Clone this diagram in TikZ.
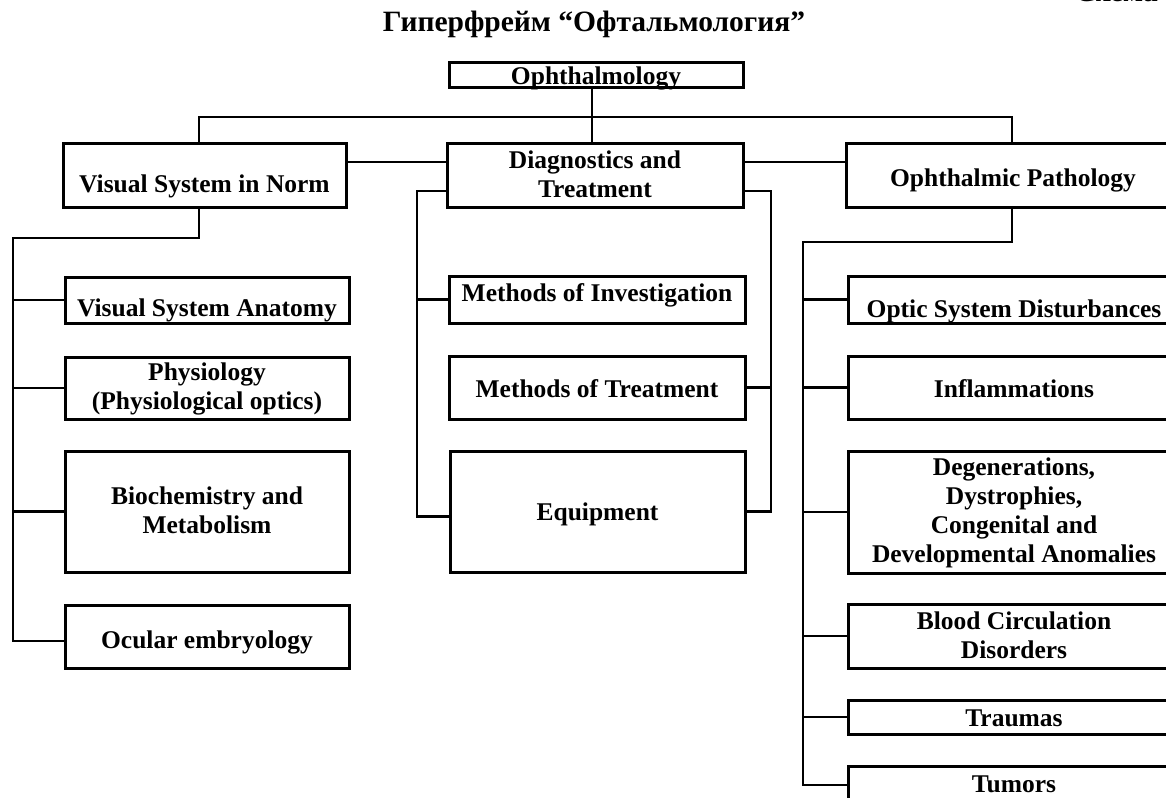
\documentclass[tikz,border=0pt]{standalone}
\usepackage{fontspec}
\setmainfont{Liberation Serif}
\usetikzlibrary{calc}
\tikzset{
  boxst/.style={draw, line width=3pt, inner sep=0pt, outer sep=0pt, rectangle},
  txt/.style={font=\fontsize{25.5}{29}\selectfont\bfseries, align=center, inner sep=0pt,
     execute at begin node={\rule{0pt}{20pt}}, execute at end node={\rule[-7pt]{0pt}{7pt}}},
  titlest/.style={font=\fontsize{29.5}{33}\selectfont\bfseries, inner sep=0pt},
  con/.style={line width=2.3pt},
}
\newcommand\bx[8]{%
  \node[boxst, minimum width={(#4-#2)*1pt}, minimum height={(#5-#3)*1pt}] (#1) at ({(#2+#4)/2},{-(#3+#5)/2}) {};
  \node[txt] (#1t) at ({(#2+#4)/2},{-((#6+#7)/2-6.5)}) {#8};
}
\begin{document}
\begin{tikzpicture}[x=1pt,y=1pt]
\path[use as bounding box, fill=white] (0,0) rectangle (1166,-797);

\node[titlest, anchor=base] (title) at (594,-32) {Гиперфрейм “Офтальмология”};
\node[titlest, anchor=base east] (schema) at (1158,-1.5) {Схема};

\bx{ophth}{449}{63}{743}{88}{85}{85}{Ophthalmology}
\bx{vsn}{63}{143}{346}{207}{192}{192}{Visual System in Norm}
\bx{diag}{447}{143}{743}{207}{170}{199}{Diagnostics and\\Treatment}
\bx{op}{846}{143}{1180}{207}{186}{186}{Ophthalmic Pathology}

\bx{vsa}{65}{277}{349}{323}{316}{316}{Visual System Anatomy}
\bx{phys}{65}{357}{349}{419}{382}{410}{Physiology\\(Physiological optics)}
\bx{bio}{65}{451}{349}{572}{505}{535}{Biochemistry and\\Metabolism}
\bx{ocu}{65}{605}{349}{668}{648}{648}{Ocular embryology}

\bx{moi}{449}{276}{745}{323}{301}{301}{Methods of Investigation}
\bx{mot}{449}{356}{745}{419}{397}{397}{Methods of Treatment}
\bx{equ}{450}{451}{745}{572}{520}{520}{Equipment}

\bx{osd}{848}{276}{1180}{323}{317}{317}{Optic System Disturbances}
\bx{inf}{848}{356}{1180}{419}{397}{397}{Inflammations}
\bx{deg}{848}{451}{1180}{573}{477}{563}{Degenerations,\\Dystrophies,\\Congenital and\\Developmental Anomalies}
\bx{blood}{848}{604}{1180}{668}{631}{660}{Blood Circulation\\Disorders}
\bx{trau}{848}{700}{1180}{734}{726}{726}{Traumas}
\bx{tum}{848}{766}{1180}{804}{792}{792}{Tumors}

% top level connectors
\coordinate (j1) at (592,-117);
\coordinate (jl) at (199,-117);
\coordinate (jr) at (1012,-117);
\draw[con] (ophth.south -| j1) -- (diag.north -| j1);
\draw[con] (vsn.north -| jl) -- (jl) -- (jr) -- (op.north -| jr);
\coordinate (h2) at (0,-162);
\draw[con] (vsn.east |- h2) -- (diag.west |- h2);
\draw[con] (diag.east |- h2) -- (op.west |- h2);

% centre column
\coordinate (dl) at (417,-191);
\coordinate (dr) at (771,-191);
\draw[con] (diag.west |- dl) -- (dl) |- ([yshift=-5pt]equ.west);
\draw[con] (dl |- moi.west) -- (moi.west);
\draw[con] (diag.east |- dr) -- (dr) |- (equ.east);
\draw[con] (mot.east) -- (mot.east -| dr);

% left column
\coordinate (lb) at (199,-238);
\coordinate (lc) at (13,-238);
\draw[con] (vsn.south -| lb) -- (lb) -- (lc) |- ([yshift=-4.5pt]ocu.west);
\foreach \n in {vsa,phys,bio} \draw[con] (lc |- \n.west) -- (\n.west);

% right column
\coordinate (rb) at (1012,-242);
\coordinate (rc) at (803,-242);
\draw[con] (op.south -| rb) -- (rb) -- (rc) |- (tum.west);
\foreach \n in {osd,inf,deg,blood,trau} \draw[con] (rc |- \n.west) -- (\n.west);
\end{tikzpicture}
\end{document}
